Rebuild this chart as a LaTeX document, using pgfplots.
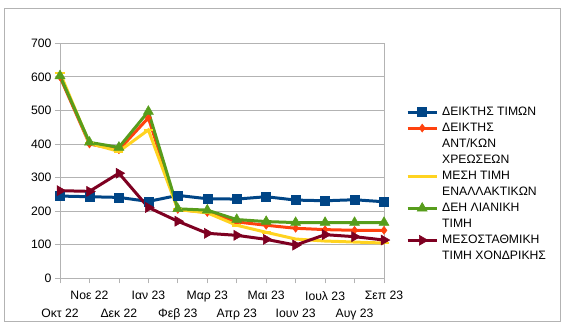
\documentclass[border=0pt]{standalone}
\usepackage{fontspec}
\setmainfont{Liberation Sans}
\usepackage{pgfplots}
\pgfplotsset{compat=1.18}
\definecolor{cblue}{HTML}{004586}
\definecolor{corange}{HTML}{FF420E}
\definecolor{cyellow}{HTML}{FFD320}
\definecolor{cgreen}{HTML}{579D1C}
\definecolor{cmaroon}{HTML}{7E0021}
\definecolor{gridgray}{HTML}{B3B3B3}
\begin{document}
\begin{tikzpicture}[font=\fontsize{12.2bp}{14bp}\selectfont]
\path[use as bounding box] (0bp,0bp) rectangle (584bp,-324bp);
\draw[gridgray,line width=0.8bp] (4.3bp,-8bp) rectangle (560.3bp,-321bp);
\begin{axis}[
  at={(60bp,-278.3bp)}, anchor=south west,
  scale only axis, width=324bp, height=235bp,
  xmin=0, xmax=11, ymin=0, ymax=700,
  ytick={0,100,...,700},
  xtick={1,3,5,7,9,11},
  xticklabels={Νοε 22, Ιαν 23, Μαρ 23, Μαι 23, Ιουλ 23, Σεπ 23},
  xticklabel style={yshift=-4.5bp},
  extra x ticks={0,2,4,6,8,10},
  extra x tick labels={Οκτ 22, Δεκ 22, Φεβ 23, Απρ 23, Ιουν 23, Αυγ 23},
  extra x tick style={xticklabel style={yshift=-17.4bp}, grid=none},
  ymajorgrids, grid style={gridgray, line width=0.8bp},
  axis line style={gridgray, line width=0.8bp},
  tick style={gridgray, line width=0.8bp},
  tick align=outside, major tick length=5bp,
  xtick pos=lower, ytick pos=left,
  /pgf/number format/assume math mode=true,
  ticklabel style={font=\fontsize{12.2bp}{14bp}\selectfont},
  legend style={at={(axis description cs:1.0679,0.732)}, anchor=north west,
    draw=none, fill=none, inner sep=0pt, row sep=4.8bp, column sep=4bp,
    nodes={inner sep=0pt, text height=8.6bp, text depth=2.6bp},
    font=\fontsize{12.2bp}{14bp}\selectfont},
  legend cell align=left,
  legend image code/.code={\draw[mark repeat=2,mark phase=2,#1] plot coordinates {(0bp,0bp) (14.5bp,0bp) (29bp,0bp)};},
]
\addplot[cblue, line width=3bp, mark=square*, mark size=4.5bp, mark options={line width=0.5bp}] coordinates {
(0,245) (1,243) (2,241) (3,229) (4,247) (5,237) (6,236) (7,243) (8,233) (9,231) (10,234) (11,228)};
\addlegendentry{ΔΕΙΚΤΗΣ ΤΙΜΩΝ}
\addplot[corange, line width=3bp, mark=diamond*, mark size=4bp, mark options={line width=0.5bp}] coordinates {
(0,600) (1,400) (2,383) (3,478) (4,205) (5,196) (6,168) (7,158) (8,149) (9,145) (10,143) (11,143)};
\addlegendentry{ΔΕΙΚΤΗΣ}
\addlegendimage{empty legend}\addlegendentry{ΑΝΤ/ΚΩΝ}
\addlegendimage{empty legend}\addlegendentry{ΧΡΕΩΣΕΩΝ}
\addplot[cyellow, line width=3bp, mark=-, mark size=4.5bp, mark options={line width=2.5bp}] coordinates {
(0,612) (1,402) (2,378) (3,442) (4,205) (5,195) (6,158) (7,137) (8,117) (9,111) (10,108) (11,105)};
\addlegendentry{ΜΕΣΗ ΤΙΜΗ}
\addlegendimage{empty legend}\addlegendentry{ΕΝΑΛΛΑΚΤΙΚΩΝ}
\addplot[cgreen, line width=3bp, mark=triangle*, mark size=5.8bp, mark options={line width=0.5bp}] coordinates {
(0,603) (1,405) (2,390) (3,497) (4,207) (5,203) (6,175) (7,169) (8,166) (9,166) (10,166) (11,166)};
\addlegendentry{ΔΕΗ ΛΙΑΝΙΚΗ}
\addlegendimage{empty legend}\addlegendentry{ΤΙΜΗ}
\addplot[cmaroon, line width=3bp, mark=triangle*, mark size=5.8bp, mark options={line width=0.5bp, rotate=-90}] coordinates {
(0,261) (1,259) (2,313) (3,211) (4,170) (5,134) (6,128) (7,116) (8,99) (9,130) (10,124) (11,114)};
\addlegendentry{ΜΕΣΟΣΤΑΘΜΙΚΗ}
\addlegendimage{empty legend}\addlegendentry{ΤΙΜΗ ΧΟΝΔΡΙΚΗΣ}
\end{axis}
\end{tikzpicture}
\end{document}
